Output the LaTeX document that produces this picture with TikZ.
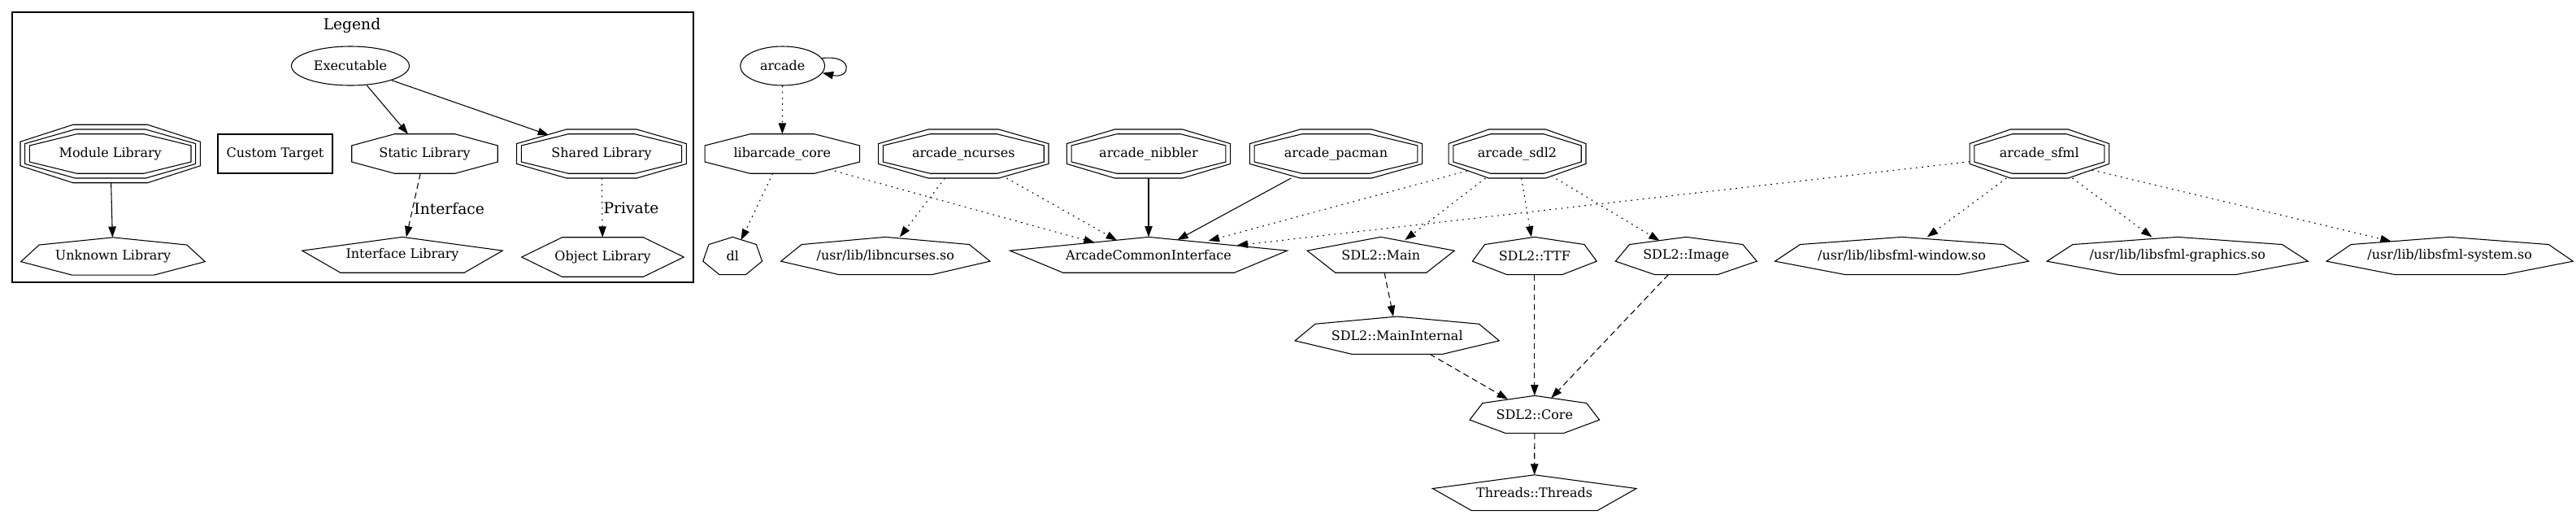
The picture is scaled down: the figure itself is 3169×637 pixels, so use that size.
\documentclass[tikz,border=0pt]{standalone}
\usepackage{fontspec}
\setmainfont{DejaVu Serif}
\usetikzlibrary{arrows.meta, calc, shapes.geometric}

\newcommand{\gvfont}{\fontsize{12}{14}\selectfont}
\newcommand{\gvbigfont}{\fontsize{14}{16}\selectfont}

% outlines drawn round a node box (#1 grows or shrinks the box)
\newcommand{\gvoct}[2][0pt]{%
  \draw[gvline] let \p1=($(#2.north east)+(#1,#1)-(#2.center)$) in
    ($(#2.center)+(.414*\x1,\y1)$) -- ($(#2.center)+(\x1,.414*\y1)$)
    -- ($(#2.center)+(\x1,-.414*\y1)$) -- ($(#2.center)+(.414*\x1,-\y1)$)
    -- ($(#2.center)+(-.414*\x1,-\y1)$) -- ($(#2.center)+(-\x1,-.414*\y1)$)
    -- ($(#2.center)+(-\x1,.414*\y1)$) -- ($(#2.center)+(-.414*\x1,\y1)$) -- cycle;}
\newcommand{\gvsept}[1]{%
  \draw[gvline] let \p1=($(#1.north east)-(#1.center)$) in
    ($(#1.center)+(0,\y1)$) -- ($(#1.center)+(.802*\x1,.603*\y1)$)
    -- ($(#1.center)+(\x1,-.287*\y1)$) -- ($(#1.center)+(.445*\x1,-\y1)$)
    -- ($(#1.center)+(-.445*\x1,-\y1)$) -- ($(#1.center)+(-\x1,-.287*\y1)$)
    -- ($(#1.center)+(-.802*\x1,.603*\y1)$) -- cycle;}
\newcommand{\gvpent}[1]{%
  \draw[gvline] let \p1=($(#1.north east)-(#1.center)$) in
    ($(#1.center)+(0,\y1)$) -- ($(#1.center)+(\x1,.236*\y1)$)
    -- ($(#1.center)+(.618*\x1,-\y1)$) -- ($(#1.center)+(-.618*\x1,-\y1)$)
    -- ($(#1.center)+(-\x1,.236*\y1)$) -- cycle;}
\newcommand{\gvhex}[1]{%
  \draw[gvline] let \p1=($(#1.north east)-(#1.center)$) in
    ($(#1.center)+(\x1,0)$) -- ($(#1.center)+(.5*\x1,\y1)$)
    -- ($(#1.center)+(-.5*\x1,\y1)$) -- ($(#1.center)+(-\x1,0)$)
    -- ($(#1.center)+(-.5*\x1,-\y1)$) -- ($(#1.center)+(.5*\x1,-\y1)$) -- cycle;}

\begin{document}
\begin{tikzpicture}[
  x=0.75pt, y=-0.75pt,
  gvline/.style={line width=0.8pt},
  target/.style={inner sep=0pt, font=\gvfont},
  exe/.style={target, ellipse, draw, gvline, minimum height=36pt},
  customtgt/.style={target, draw, gvline, minimum height=36pt},
  octlib/.style={target, minimum height=36pt},
  dbllib/.style={target, minimum height=44.6pt},
  trilib/.style={target, minimum height=53.2pt},
  septlib/.style={target, minimum height=34.3pt},
  pentlib/.style={target, minimum height=32.5pt},
  hexlib/.style={target, minimum height=36pt},
  link/.style={gvline, -{Triangle[length=10pt, width=7pt]}},
  priv/.style={link, dash pattern=on 1.3pt off 4.1pt},
  iface/.style={link, dash pattern=on 5.5pt off 3.5pt},
  elabel/.style={font=\gvbigfont, inner sep=1pt},
]
\useasboundingbox (0,0) rectangle (3169,637);
\fill[white] (0,0) rectangle (3169,637);

% Legend
\draw[gvline] (15,15) rectangle (853,347);
\node[font=\gvbigfont] (legendtitle) at (433,31) {Legend};
\node[exe, minimum width=108.75pt] (exe) at (431,81) {Executable};
\node[trilib, minimum width=165.7pt] (modlib) at (135.7,189) {Module Library};
\node[customtgt, minimum width=105.75pt] (custom) at (338.5,189) {Custom Target};
\node[octlib, minimum width=134.25pt] (statlib) at (522.5,189) {Static Library};
\node[dbllib, minimum width=156.05pt] (shlib) at (740,189) {Shared Library};
\node[septlib, minimum width=169.5pt] (unklib) at (139,315) {Unknown Library};
\node[pentlib, minimum width=184.5pt] (ifacelib) at (495,313.3) {Interface Library};
\node[hexlib, minimum width=149.25pt] (objlib) at (741.5,316) {Object Library};

\gvoct{modlib} \gvoct[-4.3pt]{modlib} \gvoct[-8.6pt]{modlib}
\gvoct{statlib}
\gvoct{shlib} \gvoct[-4.3pt]{shlib}
\gvsept{unklib}
\gvpent{ifacelib}
\gvhex{objlib}

\draw[link] (exe) -- (statlib);
\draw[link] (exe) -- ($(shlib)+(-65,-23)$);
\draw[link] (modlib) -- (unklib);
\draw[iface] (statlib) -- node[elabel, right, pos=.55] (lblinterface) {Interface} (ifacelib);
\draw[priv] (shlib) -- node[elabel, right] (lblprivate) {Private} (objlib);

% Targets
\node[exe, minimum width=78pt] (arcade) at (962.7,81) {arcade};
\node[octlib, minimum width=142.5pt] (core) at (962.3,189) {libarcade\_core};
\node[dbllib, minimum width=156.6pt] (ncurses) at (1185.3,189) {arcade\_ncurses};
\node[dbllib, minimum width=150.45pt] (nibbler) at (1413,189) {arcade\_nibbler};
\node[dbllib, minimum width=158.7pt] (pacman) at (1643.5,189) {arcade\_pacman};
\node[dbllib, minimum width=126.3pt] (sdl2) at (1866.5,189) {arcade\_sdl2};
\node[dbllib, minimum width=128.25pt] (sfml) at (2508.8,189) {arcade\_sfml};

% Dependencies
\node[septlib, minimum width=54.2pt] (dl) at (901.2,314.5) {dl};
\node[septlib, minimum width=192.5pt] (ncursesso) at (1089.3,314.5) {/usr/lib/libncurses.so};
\node[pentlib, minimum width=255.45pt] (aci) at (1413,313.3) {ArcadeCommonInterface};
\node[pentlib, minimum width=135.5pt] (sdlmain) at (1698.7,313.3) {SDL2::Main};
\node[septlib, minimum width=114.2pt] (sdlttf) at (1887.8,314.5) {SDL2::TTF};
\node[septlib, minimum width=130pt] (sdlimage) at (2074.3,314.5) {SDL2::Image};
\node[septlib, minimum width=233.7pt] (sfmlwin) at (2339.6,314.5) {/usr/lib/libsfml-window.so};
\node[septlib, minimum width=240.5pt] (sfmlgfx) at (2678.7,314.5) {/usr/lib/libsfml-graphics.so};
\node[septlib, minimum width=227pt] (sfmlsys) at (3013.7,314.5) {/usr/lib/libsfml-system.so};
\node[septlib, minimum width=188pt] (sdlmainint) at (1718.7,412.2) {SDL2::MainInternal};
\node[septlib, minimum width=119.25pt] (sdlcore) at (1887.8,509.5) {SDL2::Core};
\node[pentlib, minimum width=187.5pt] (threads) at (1887.7,605.7) {Threads::Threads};

\gvoct{core}
\gvoct{ncurses} \gvoct[-4.3pt]{ncurses}
\gvoct{nibbler} \gvoct[-4.3pt]{nibbler}
\gvoct{pacman} \gvoct[-4.3pt]{pacman}
\gvoct{sdl2} \gvoct[-4.3pt]{sdl2}
\gvoct{sfml} \gvoct[-4.3pt]{sfml}
\gvsept{dl} \gvsept{ncursesso} \gvsept{sdlttf} \gvsept{sdlimage}
\gvsept{sfmlwin} \gvsept{sfmlgfx} \gvsept{sfmlsys}
\gvsept{sdlmainint} \gvsept{sdlcore}
\gvpent{aci} \gvpent{sdlmain} \gvpent{threads}

% Links
\draw[link] (arcade.11) .. controls +(40,-5) and +(35,8) .. (arcade.-10);
\draw[priv] (arcade) -- (core);
\draw[priv] (core) -- ($(dl)+(10.5,-19.5)$);
\draw[priv] ($(core)+(57.7,19.3)$) -- ($(aci)+(-66.3,-15)$);
\draw[priv] (ncurses) -- (ncursesso);
\draw[priv] (ncurses) -- ($(aci)+(-39,-17.8)$);
\draw[link] (nibbler) -- (aci);
\draw[link] (pacman) -- ($(aci)+(35.3,-18.3)$);
\draw[priv] ($(sdl2)+(-61.5,21)$) -- ($(aci)+(73.7,-17.3)$);
\draw[priv] (sdl2) -- ($(sdlmain)+(29.6,-18.3)$);
\draw[priv] (sdl2) -- (sdlttf);
\draw[priv] ($(sdl2)+(41.8,27)$) -- ($(sdlimage)+(-32.6,-18.5)$);
\draw[priv] (sfml) -- ($(aci)+(108.7,-11.6)$);
\draw[priv] (sfml) -- (sfmlwin);
\draw[priv] (sfml) -- (sfmlgfx);
\draw[priv] ($(sfml)+(65,20)$) -- ($(sfmlsys)+(-72,-17.8)$);
\draw[iface] (sdlmain) -- (sdlmainint);
\draw[iface] (sdlmainint) -- ($(sdlcore)+(-32.8,-18.8)$);
\draw[iface] (sdlttf) -- (sdlcore);
\draw[iface] (sdlimage) -- ($(sdlcore)+(20.5,-20.2)$);
\draw[iface] (sdlcore) -- (threads);

\end{tikzpicture}
\end{document}
